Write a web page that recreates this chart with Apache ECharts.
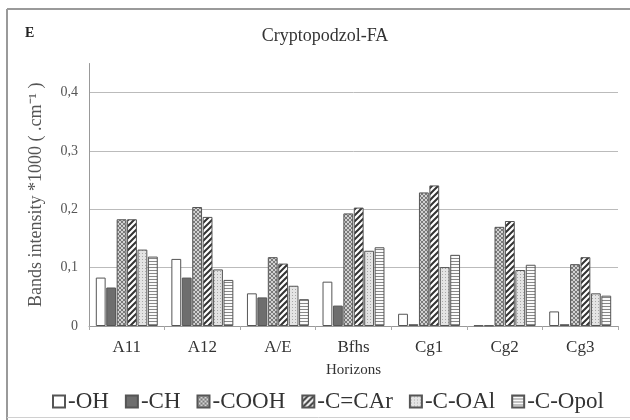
<!DOCTYPE html>
<html><head><meta charset="utf-8">
<script src="https://cdn.jsdelivr.net/npm/echarts@6/dist/echarts.min.js"></script>
<style>html,body{margin:0;padding:0;background:#fff}#c{width:630px;height:420px}</style>
</head><body><div id="c"></div>
<script>
const categories = ['A11','A12','A/E','Bfhs','Cg1','Cg2','Cg3'];
const seriesNames = ['-OH','-CH','-COOH','-C=CAr','-C-OAl','-C-Opol'];
const valOH   = [0.083, 0.115, 0.056, 0.076, 0.021, 0.001, 0.025];
const valCH   = [0.066, 0.083, 0.049, 0.035, 0.003, 0.001, 0.003];
const valCOOH = [0.183, 0.204, 0.118, 0.193, 0.229, 0.170, 0.106];
const valCCAr = [0.183, 0.187, 0.107, 0.203, 0.241, 0.180, 0.118];
const valCOAl = [0.131, 0.097, 0.069, 0.129, 0.101, 0.096, 0.056];
const valCOpol= [0.119, 0.079, 0.046, 0.135, 0.122, 0.105, 0.052];
const yTicks = [0, 0.1, 0.2, 0.3, 0.4];

function pat(w, h, draw) {
  const c = document.createElement('canvas'); c.width = w; c.height = h;
  const ctx = c.getContext('2d'); draw(ctx, w, h);
  return { image: c, repeat: 'repeat' };
}
const fills = [
  '#ffffff',
  '#6e6e6e',
  pat(4, 4, (ctx) => { ctx.fillStyle = '#d2d2d2'; ctx.fillRect(0,0,4,4); ctx.fillStyle = '#7a7a7a';
    for (let i = 0; i < 4; i++) { ctx.fillRect(i, i, 1, 1); ctx.fillRect(3 - i, i, 1, 1); } }),
  pat(6, 6, (ctx) => { ctx.fillStyle = '#fff'; ctx.fillRect(0,0,6,6); ctx.strokeStyle = '#333'; ctx.lineWidth = 2;
    ctx.beginPath(); ctx.moveTo(-1,7); ctx.lineTo(7,-1); ctx.moveTo(-2,2); ctx.lineTo(2,-2); ctx.moveTo(4,8); ctx.lineTo(8,4); ctx.stroke(); }),
  pat(3, 3, (ctx) => { ctx.fillStyle = '#e4e4e4'; ctx.fillRect(0,0,3,3); ctx.fillStyle = '#a8a8a8'; ctx.fillRect(1,1,1,1); }),
  pat(3, 3, (ctx) => { ctx.fillStyle = '#fafafa'; ctx.fillRect(0,0,3,3); ctx.fillStyle = '#888'; ctx.fillRect(0,0,3,1); })
];
const allVals = [valOH, valCH, valCOOH, valCCAr, valCOAl, valCOpol];
const font = 'Liberation Serif, Times New Roman, serif';

const chart = echarts.init(document.getElementById('c'), null, { renderer: 'canvas' });
chart.setOption({
  animation: false,
  backgroundColor: '#fff',
  textStyle: { fontFamily: font },
  title: { text: 'Cryptopodzol-FA', left: 320, top: 22, textAlign: 'center',
    textStyle: { fontFamily: font, fontSize: 18, fontWeight: 'normal', color: '#333' } },
  graphic: [
    { type: 'line', shape: { x1: 7, y1: 9, x2: 630, y2: 9 }, style: { stroke: '#9a9a9a', lineWidth: 2 } },
    { type: 'line', shape: { x1: 7, y1: 9, x2: 7, y2: 420 }, style: { stroke: '#9a9a9a', lineWidth: 2 } },
    { type: 'line', shape: { x1: 7, y1: 417.5, x2: 630, y2: 417.5 }, style: { stroke: '#d0d0d0', lineWidth: 1 } },
    { type: 'text', left: 25, top: 26, style: { text: 'E', font: 'bold 14px ' + font, fill: '#222' } }
  ],
  grid: { left: 89, right: 12, top: 63.5, bottom: 94 },
  legend: {
    top: 385, left: 47, itemWidth: 12, itemHeight: 12, itemGap: 16, icon: 'rect',
    textStyle: { fontFamily: font, fontSize: 23, color: '#333', padding: [0, 0, 0, -2] },
    data: seriesNames
  },
  xAxis: {
    type: 'category', data: categories,
    name: 'Horizons', nameLocation: 'middle', nameGap: 37,
    nameTextStyle: { fontFamily: font, fontSize: 15, color: '#333' },
    axisLine: { lineStyle: { color: '#999' } },
    axisTick: { show: true, length: 4, lineStyle: { color: '#aaa' } },
    axisLabel: { fontFamily: font, fontSize: 17, color: '#333', margin: 13 }
  },
  yAxis: {
    type: 'value', min: 0, max: 0.45, interval: 0.1,
    name: 'Bands intensity *1000 ( .cm⁻¹ )', nameLocation: 'middle', nameGap: 44, nameRotate: 90,
    nameTextStyle: { fontFamily: font, fontSize: 18, color: '#555' },
    axisLine: { show: true, lineStyle: { color: '#999' } },
    axisTick: { show: false },
    axisLabel: { fontFamily: font, fontSize: 14, color: '#555', margin: 11, showMaxLabel: false,
      formatter: v => (yTicks.indexOf(Math.round(v * 10) / 10) >= 0 && Math.abs(v - Math.round(v*10)/10) < 1e-6) ? String(v).replace('.', ',') : '' },
    splitLine: { show: true, showMaxLine: false, lineStyle: { color: '#bbb' } }
  },
  series: seriesNames.map((n, i) => ({
    name: n, type: 'bar', data: allVals[i],
    barCategoryGap: '18%', barGap: '6%',
    itemStyle: { color: fills[i], borderColor: '#555', borderWidth: 1 }
  }))
});
</script></body></html>
